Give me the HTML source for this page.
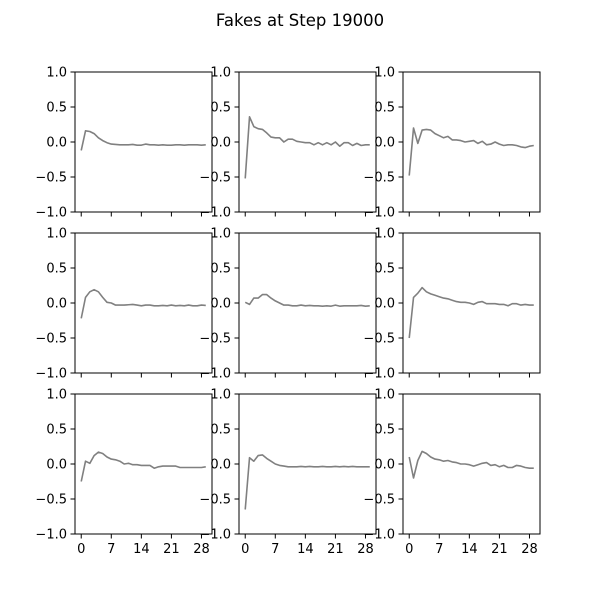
<!DOCTYPE html>
<html><head><meta charset="utf-8"><style>body{margin:0;background:#fff}svg{display:block}</style></head>
<body>
<svg id="fig" width="600" height="600" xmlns="http://www.w3.org/2000/svg" font-family="DejaVu Sans, Liberation Sans, sans-serif">
<rect width="600" height="600" fill="#fff"/>
<text x="300" y="26" text-anchor="middle" font-size="16.5">Fakes at Step 19000</text>
</svg>
<script>
const xTicks = [0, 7, 14, 21, 28];
const yTicks = [-1.0, -0.5, 0.0, 0.5, 1.0];
const yTickLabels = ["\u22121.0", "\u22120.5", "0.0", "0.5", "1.0"];
const s1 = [-0.12,0.16,0.15,0.12,0.06,0.02,-0.01,-0.03,-0.035,-0.04,-0.04,-0.04,-0.035,-0.045,-0.045,-0.03,-0.04,-0.04,-0.045,-0.04,-0.045,-0.045,-0.04,-0.04,-0.045,-0.04,-0.04,-0.04,-0.045,-0.04];
const s2 = [-0.52,0.36,0.22,0.19,0.18,0.13,0.07,0.06,0.06,0.0,0.04,0.04,0.01,0.0,-0.01,-0.01,-0.04,-0.01,-0.04,-0.01,-0.04,0.0,-0.06,-0.01,-0.01,-0.05,-0.02,-0.05,-0.04,-0.04];
const s3 = [-0.48,0.2,-0.02,0.17,0.18,0.17,0.12,0.09,0.06,0.08,0.03,0.03,0.02,0.0,0.01,0.02,-0.02,0.01,-0.04,-0.03,0.0,-0.03,-0.05,-0.04,-0.04,-0.05,-0.07,-0.08,-0.06,-0.05];
const s4 = [-0.22,0.08,0.16,0.19,0.16,0.08,0.01,0.0,-0.03,-0.03,-0.03,-0.025,-0.02,-0.03,-0.04,-0.03,-0.03,-0.04,-0.04,-0.035,-0.04,-0.03,-0.04,-0.035,-0.04,-0.03,-0.04,-0.04,-0.03,-0.035];
const s5 = [0.01,-0.02,0.07,0.07,0.12,0.12,0.07,0.03,0.0,-0.03,-0.03,-0.04,-0.04,-0.03,-0.04,-0.035,-0.04,-0.04,-0.045,-0.04,-0.045,-0.03,-0.045,-0.04,-0.04,-0.04,-0.04,-0.035,-0.045,-0.04];
const s6 = [-0.5,0.08,0.14,0.22,0.16,0.13,0.11,0.09,0.07,0.06,0.04,0.02,0.01,0.01,0.0,-0.02,0.01,0.02,-0.01,-0.01,-0.01,-0.02,-0.02,-0.04,-0.01,-0.01,-0.03,-0.02,-0.03,-0.03];
const s7 = [-0.25,0.04,0.01,0.12,0.17,0.15,0.1,0.07,0.06,0.04,0.0,0.01,-0.01,-0.01,-0.02,-0.02,-0.02,-0.06,-0.04,-0.03,-0.03,-0.03,-0.03,-0.05,-0.05,-0.05,-0.05,-0.05,-0.05,-0.04];
const s8 = [-0.65,0.09,0.04,0.12,0.13,0.08,0.04,0.0,-0.02,-0.03,-0.04,-0.04,-0.04,-0.035,-0.04,-0.035,-0.04,-0.04,-0.035,-0.04,-0.04,-0.035,-0.04,-0.035,-0.04,-0.035,-0.04,-0.04,-0.04,-0.04];
const s9 = [0.1,-0.2,0.05,0.18,0.15,0.1,0.07,0.06,0.04,0.05,0.03,0.02,0.0,0.0,-0.01,-0.03,-0.01,0.01,0.02,-0.02,-0.01,-0.04,-0.02,-0.05,-0.05,-0.02,-0.03,-0.05,-0.06,-0.06];
const allSeries = [s1,s2,s3,s4,s5,s6,s7,s8,s9];

const NS = "http://www.w3.org/2000/svg";
const svg = document.getElementById('fig');
const colX = [75, 239, 403], rowY = [72, 233, 394], W = 137, H = 140;
function mk(tag, attrs, parent) { const e = document.createElementNS(NS, tag); for (const k in attrs) e.setAttribute(k, attrs[k]); parent.appendChild(e); return e; }

allSeries.forEach((data, i) => {
  const r = Math.floor(i / 3), c = i % 3;
  const L = colX[c], T = rowY[r];
  const n = data.length;
  const xmin = -0.05 * (n - 1), xmax = (n - 1) * 1.05;
  const sx = v => L + (v - xmin) / (xmax - xmin) * W;
  const sy = v => T + H - (v + 1) / 2 * H;
  const g = mk('g', {}, svg);
  
  
  mk('rect', {x: L, y: T, width: W, height: H, fill: '#fff'}, g);
  const pts = data.map((v, k) => sx(k).toFixed(2) + ',' + sy(v).toFixed(2)).join(' ');
  const line = mk('polyline', {points: pts, fill: 'none', stroke: '#808080', 'stroke-width': 1.6, 'stroke-linejoin': 'round'}, g);
  
  
  const frame = mk('rect', {x: L, y: T, width: W, height: H, fill: 'none', stroke: '#000', 'stroke-width': 1}, g);
  
  
  yTicks.forEach((t, k) => {
    const y = sy(t);
    mk('line', {x1: L - 4.5, x2: L, y1: y, y2: y, stroke: '#000', 'stroke-width': 1}, g);
    const lb = mk('text', {x: L - 8, y: y + 4.5, 'text-anchor': 'end', 'font-size': 13}, g);
    
    
    lb.textContent = yTickLabels[k];
  });
  xTicks.forEach(t => {
    const x = sx(t);
    mk('line', {x1: x, x2: x, y1: T + H, y2: T + H + 4.5, stroke: '#000', 'stroke-width': 1}, g);
    if (r === 2) {
      const lb = mk('text', {x: x, y: T + H + 19, 'text-anchor': 'middle', 'font-size': 13}, g);
      
      
      lb.textContent = String(t);
    }
  });
});
</script>
</body></html>
